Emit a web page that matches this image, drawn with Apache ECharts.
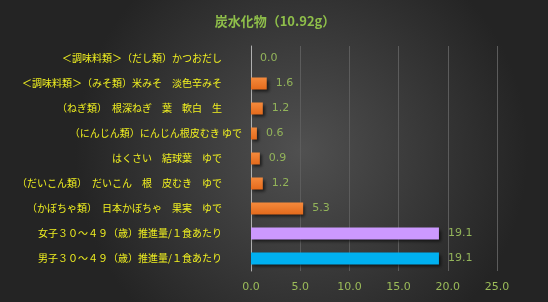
<!DOCTYPE html>
<html>
<head>
<meta charset="utf-8">
<script src="https://cdn.jsdelivr.net/npm/echarts@6/dist/echarts.min.js"></script>
<style>
  html, body { margin: 0; padding: 0; background: #2a2a2a; }
  #chart { width: 548px; height: 302px; }
</style>
</head>
<body>
<div id="chart"></div>
<script>
// data
var foods = [
  '＜調味料類＞（だし類）かつおだし',
  '＜調味料類＞（みそ類）米みそ　淡色辛みそ',
  '（ねぎ類）　根深ねぎ　葉　軟白　生',
  '（にんじん類）にんじん根皮むき ゆで',
  'はくさい　結球葉　ゆで',
  '（だいこん類）　だいこん　根　皮むき　ゆで',
  '（かぼちゃ類）　日本かぼちゃ　果実　ゆで',
  '女子３０～４９（歳）推進量/１食あたり',
  '男子３０～４９（歳）推進量/１食あたり'
];
var amounts = [0.0, 1.6, 1.2, 0.6, 0.9, 1.2, 5.3, 19.1, 19.1];
var barColors = ['#ed7d31', '#ed7d31', '#ed7d31', '#ed7d31', '#ed7d31', '#ed7d31', '#ed7d31', '#cc99ff', '#00b0f0'];
var xTicks = [0, 5, 10, 15, 20, 25];

var chart = echarts.init(document.getElementById('chart'));

var seriesData = amounts.map(function (v, i) {
  var c = barColors[i];
  if (c == '#ed7d31') {
    c = { type: 'linear', x: 0, y: 0, x2: 0, y2: 1,
      colorStops: [{ offset: 0, color: '#f58a3c' }, { offset: 1, color: '#e46a1c' }] };
  }
  return { value: v, itemStyle: { color: c } };
});

chart.setOption({
  backgroundColor: {
    type: 'radial', x: 0.55, y: 0.5, r: 0.75,
    colorStops: [{ offset: 0, color: '#505050' }, { offset: 1, color: '#242424' }]
  },
  title: {
    text: '炭水化物（10.92g）',
    left: 270, top: 10, textAlign: 'center',
    textStyle: { color: '#8fbf4a', fontSize: 13, fontWeight: 'bold', fontFamily: 'Noto Sans CJK JP' }
  },
  grid: { left: 251, right: 51, top: 46, bottom: 31 },
  xAxis: {
    type: 'value', min: xTicks[0], max: xTicks[xTicks.length - 1], interval: 5,
    axisLine: { show: false }, axisTick: { show: false },
    splitLine: { lineStyle: { color: '#5c5c5c', width: 1 } },
    axisLabel: {
      color: '#9bbb59', fontSize: 11, fontFamily: 'DejaVu Sans', margin: 11,
      formatter: function (v) { return v.toFixed(1); }
    }
  },
  yAxis: {
    type: 'category', data: foods, inverse: true,
    axisLine: { show: true, lineStyle: { color: '#b0b0b0', width: 1 } },
    axisTick: { show: false },
    axisLabel: {
      margin: 9,
      formatter: function (v, i) {
        return i == 3 ? '{w|' + v + '}' : '{n|' + v + '}';
      },
      rich: {
        n: { color: '#f0f020', fontSize: 10, fontFamily: 'Noto Sans CJK JP', padding: [0, 20, 0, 0] },
        w: { color: '#f0f020', fontSize: 10, fontFamily: 'Noto Sans CJK JP' }
      }
    }
  },
  series: [{
    type: 'bar',
    data: seriesData,
    barWidth: 12,
    itemStyle: { shadowColor: 'rgba(0,0,0,0.6)', shadowBlur: 3, shadowOffsetX: 2, shadowOffsetY: 2 },
    label: {
      show: true, position: 'right', distance: 9,
      color: '#93b45a', fontSize: 11, fontFamily: 'DejaVu Sans',
      formatter: function (p) { return p.value.toFixed(1); }
    }
  }]
});
</script>
</body>
</html>
